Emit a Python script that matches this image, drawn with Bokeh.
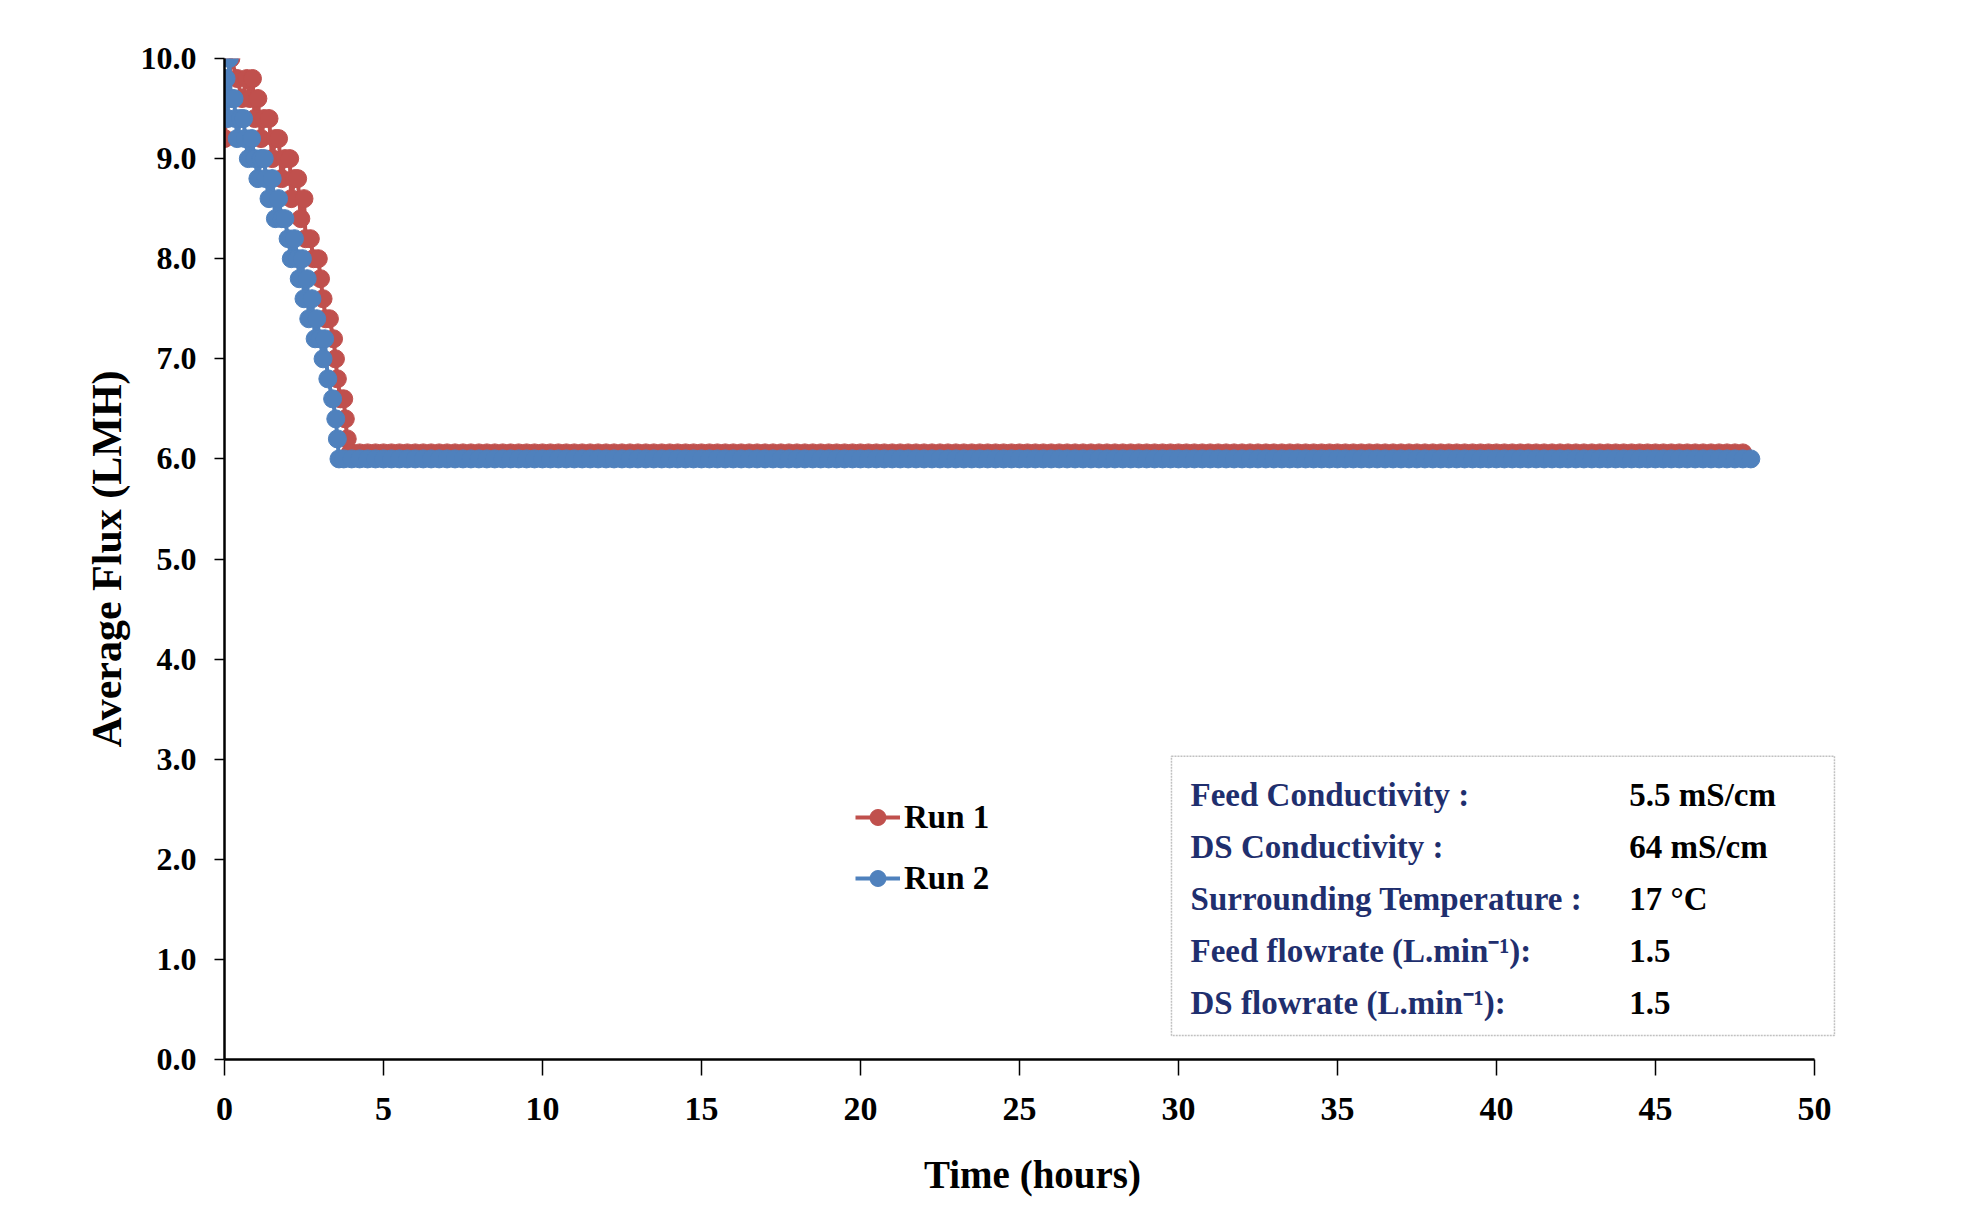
from bokeh.plotting import figure
from bokeh.models import (Range1d, FixedTicker, NumeralTickFormatter, BoxAnnotation,
                          Label, Legend, LegendItem)
from bokeh.embed import file_html
from bokeh.resources import INLINE

# ---------------- data ----------------
run1_steep_hours = [0.00, 0.20, 0.40, 0.55, 0.70, 0.80, 0.88, 0.95, 1.05, 1.15, 1.25, 1.40,
                    1.50, 1.60, 1.70, 1.80, 1.90, 2.05, 2.10, 2.20, 2.30, 2.40, 2.50, 2.55,
                    2.70, 2.80, 2.95, 3.02, 3.10, 3.18, 3.30, 3.43, 3.49, 3.55, 3.65, 3.75,
                    3.80, 3.86, 3.95]
run1_steep_flux = [9.2, 10.0, 9.8, 9.6, 9.8, 9.6, 9.8, 9.4, 9.6, 9.2, 9.4, 9.4,
                   9.0, 9.2, 9.2, 8.8, 9.0, 9.0, 8.6, 8.8, 8.8, 8.4, 8.6, 8.2,
                   8.2, 8.0, 8.0, 7.8, 7.6, 7.4, 7.4, 7.2, 7.0, 6.8, 6.6, 6.6,
                   6.4, 6.2, 6.06]

run2_steep_hours = [0.00, 0.05, 0.10, 0.15, 0.20, 0.30, 0.35, 0.40, 0.50, 0.60, 0.65, 0.75,
                    0.85, 0.95, 1.05, 1.15, 1.25, 1.30, 1.40, 1.50, 1.60, 1.70, 1.80, 1.90,
                    2.00, 2.10, 2.20, 2.30, 2.35, 2.45, 2.50, 2.60, 2.65, 2.75, 2.85, 2.90,
                    3.00, 3.10, 3.15, 3.25, 3.40, 3.50, 3.55, 3.60, 3.75]
run2_steep_flux = [9.6, 9.8, 9.4, 10.0, 9.6, 9.6, 9.4, 9.2, 9.4, 9.4, 9.2, 9.0,
                   9.2, 9.0, 8.8, 9.0, 9.0, 8.8, 8.6, 8.8, 8.4, 8.6, 8.4, 8.4,
                   8.2, 8.0, 8.2, 8.0, 7.8, 8.0, 7.6, 7.8, 7.4, 7.6, 7.2, 7.4,
                   7.2, 7.0, 7.2, 6.8, 6.6, 6.4, 6.2, 6.0, 6.0]

plateau_hours = [
    4.0, 4.25, 4.5, 4.75, 5.0, 5.25, 5.5, 5.75, 6.0, 6.25, 6.5, 6.75,
    7.0, 7.25, 7.5, 7.75, 8.0, 8.25, 8.5, 8.75, 9.0, 9.25, 9.5, 9.75,
    10.0, 10.25, 10.5, 10.75, 11.0, 11.25, 11.5, 11.75, 12.0, 12.25, 12.5, 12.75,
    13.0, 13.25, 13.5, 13.75, 14.0, 14.25, 14.5, 14.75, 15.0, 15.25, 15.5, 15.75,
    16.0, 16.25, 16.5, 16.75, 17.0, 17.25, 17.5, 17.75, 18.0, 18.25, 18.5, 18.75,
    19.0, 19.25, 19.5, 19.75, 20.0, 20.25, 20.5, 20.75, 21.0, 21.25, 21.5, 21.75,
    22.0, 22.25, 22.5, 22.75, 23.0, 23.25, 23.5, 23.75, 24.0, 24.25, 24.5, 24.75,
    25.0, 25.25, 25.5, 25.75, 26.0, 26.25, 26.5, 26.75, 27.0, 27.25, 27.5, 27.75,
    28.0, 28.25, 28.5, 28.75, 29.0, 29.25, 29.5, 29.75, 30.0, 30.25, 30.5, 30.75,
    31.0, 31.25, 31.5, 31.75, 32.0, 32.25, 32.5, 32.75, 33.0, 33.25, 33.5, 33.75,
    34.0, 34.25, 34.5, 34.75, 35.0, 35.25, 35.5, 35.75, 36.0, 36.25, 36.5, 36.75,
    37.0, 37.25, 37.5, 37.75, 38.0, 38.25, 38.5, 38.75, 39.0, 39.25, 39.5, 39.75,
    40.0, 40.25, 40.5, 40.75, 41.0, 41.25, 41.5, 41.75, 42.0, 42.25, 42.5, 42.75,
    43.0, 43.25, 43.5, 43.75, 44.0, 44.25, 44.5, 44.75, 45.0, 45.25, 45.5, 45.75,
    46.0, 46.25, 46.5, 46.75, 47.0, 47.25, 47.5, 47.75,
]
run1_plateau_flux = 6.06
run2_plateau_flux = 6.0
run2_tail_hours = [48.0]

series_names = ["Run 1", "Run 2"]
series_colors = ["#C0504D", "#4F81BD"]

x_ticks = [0, 5, 10, 15, 20, 25, 30, 35, 40, 45, 50]
y_ticks = [0, 1, 2, 3, 4, 5, 6, 7, 8, 9, 10]

info_labels = ["Feed Conductivity :", "DS Conductivity :", "Surrounding Temperature :",
               "Feed flowrate (L.min\u207b\u00b9):", "DS flowrate (L.min\u207b\u00b9):"]
info_values = ["5.5 mS/cm", "64 mS/cm", "17 \u00b0C", "1.5", "1.5"]

# ---------------- build series ----------------
run1_hours = run1_steep_hours + plateau_hours
run1_flux = run1_steep_flux + [run1_plateau_flux] * len(plateau_hours)
run2_hours = run2_steep_hours + plateau_hours + run2_tail_hours
run2_flux = run2_steep_flux + [run2_plateau_flux] * (len(plateau_hours) + len(run2_tail_hours))

FONT = "Liberation Serif"

p = figure(width=1972, height=1212, output_backend="svg", toolbar_location=None,
           x_range=Range1d(0, 50.82), y_range=Range1d(0, 10),
           min_border_left=224, min_border_right=132, min_border_top=58,
           min_border_bottom=153)
p.outline_line_color = None
p.xgrid.visible = False
p.ygrid.visible = False
p.background_fill_color = "white"
p.border_fill_color = "white"

items = []
for name, color, xs, ys in zip(series_names, series_colors,
                               [run1_hours, run2_hours], [run1_flux, run2_flux]):
    lr = p.line(xs, ys, line_color=color, line_width=4)
    sr = p.scatter(xs, ys, marker="circle", size=18, fill_color=color, line_color=color,
                   line_width=1)
    items.append(LegendItem(label=name, renderers=[lr, sr]))

# axes
xa = p.xaxis[0]
xa.bounds = (0, 50)
xa.ticker = FixedTicker(ticks=x_ticks)
xa.minor_tick_line_color = None
xa.major_tick_in = 0
xa.major_tick_out = 16
xa.axis_line_width = 2.5
xa.axis_line_color = "black"
xa.major_tick_line_width = 1.5
xa.major_tick_line_color = "black"
xa.major_label_standoff = 22
xa.major_label_text_font = FONT
xa.major_label_text_font_style = "bold"
xa.major_label_text_font_size = "34px"
xa.major_label_text_color = "black"
xa.axis_label = "Time (hours)"
xa.axis_label_text_font = FONT
xa.axis_label_text_font_style = "bold"
xa.axis_label_text_font_size = "39px"
xa.axis_label_text_color = "black"
xa.axis_label_standoff = 30

ya = p.yaxis[0]
ya.ticker = FixedTicker(ticks=y_ticks)
ya.formatter = NumeralTickFormatter(format="0.0")
ya.minor_tick_line_color = None
ya.major_tick_in = 0
ya.major_tick_out = 10
ya.axis_line_width = 2.5
ya.axis_line_color = "black"
ya.major_tick_line_width = 1.5
ya.major_tick_line_color = "black"
ya.major_label_standoff = 18
ya.major_label_text_font = FONT
ya.major_label_text_font_style = "bold"
ya.major_label_text_font_size = "32px"
ya.major_label_text_color = "black"
ya.axis_label = "Average Flux (LMH)"
ya.axis_label_text_font = FONT
ya.axis_label_text_font_style = "bold"
ya.axis_label_text_font_size = "42px"
ya.axis_label_text_color = "black"
ya.axis_label_standoff = 8

# legend
legend = Legend(items=items, location=(631, 161), orientation="vertical",
                label_text_font=FONT, label_text_font_style="bold",
                label_text_font_size="33px", label_text_color="black",
                glyph_width=45, glyph_height=40, label_height=40, spacing=21,
                label_standoff=4, padding=0, margin=0,
                border_line_color=None, background_fill_alpha=0)
p.add_layout(legend, "center")

# info box
box = BoxAnnotation(left=29.78, right=50.63, bottom=0.24, top=3.03,
                    fill_color="white", fill_alpha=1.0,
                    line_color="#333333", line_width=1.5, line_dash="2 1",
                    level="annotation")
p.add_layout(box)

for i, (lab, val) in enumerate(zip(info_labels, info_values)):
    yy = 2.647 - i * 0.52
    p.add_layout(Label(x=30.38, y=yy, text=lab, text_font=FONT, text_font_style="bold",
                       text_font_size="33px", text_color="#1F2F6E", text_baseline="middle",
                       level="annotation"))
    p.add_layout(Label(x=44.18, y=yy, text=val, text_font=FONT, text_font_style="bold",
                       text_font_size="33px", text_color="black", text_baseline="middle",
                       level="annotation"))

open("out.html", "w").write(file_html(p, INLINE))
